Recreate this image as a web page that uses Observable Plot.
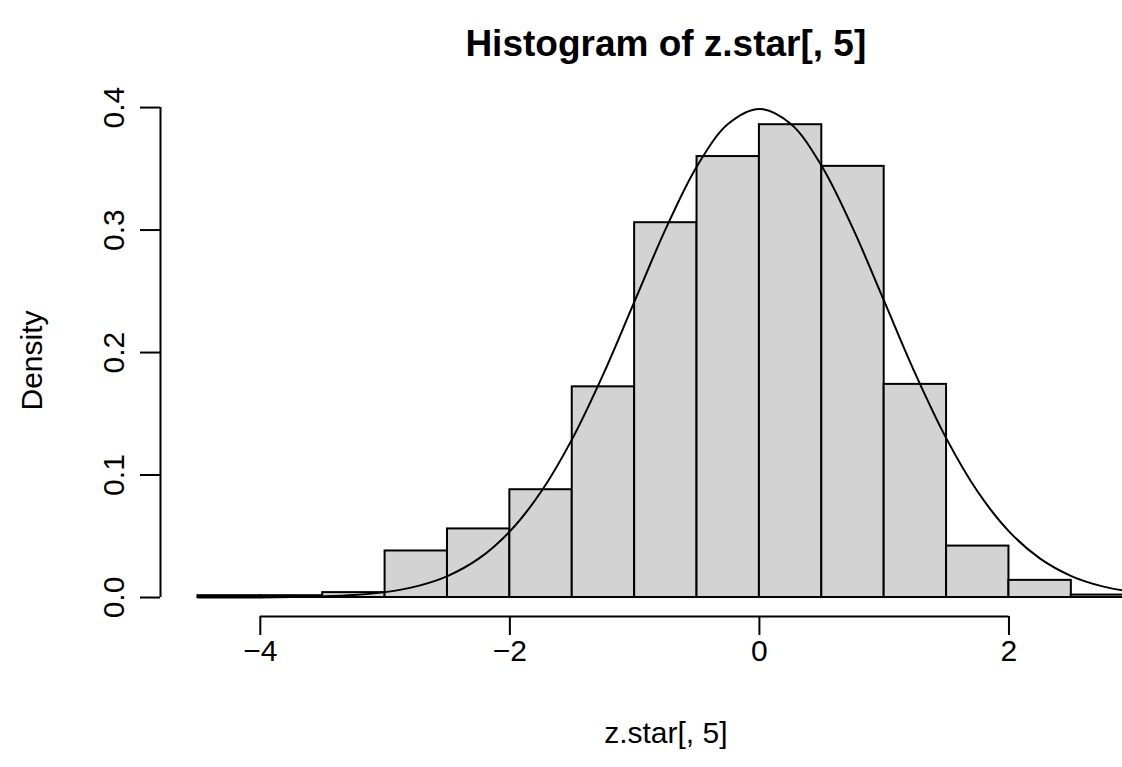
<!DOCTYPE html>
<html><head><meta charset="utf-8">
<script src="https://cdn.jsdelivr.net/npm/d3@7"></script>
<script src="https://cdn.jsdelivr.net/npm/@observablehq/plot@0.6"></script>
<style>body{margin:0;background:#fff}</style>
</head><body><div id="chart"></div>
<script>
// Histogram bins (edges) and densities
const binEdges = [-4.5,-4,-3.5,-3,-2.5,-2,-1.5,-1,-0.5,0,0.5,1,1.5,2,2.5,3];
const densities = [0.0015,0.0015,0.004,0.038,0.056,0.088,0.172,0.306,0.360,0.386,0.352,0.174,0.042,0.014,0.002];
// Overlaid density curve
const curveX = [-4.5,-4.25,-4,-3.75,-3.5,-3.25,-3,-2.75,-2.5,-2.25,-2,-1.75,-1.5,-1.25,-1,-0.75,-0.5,-0.25,0,0.25,0.5,0.75,1,1.25,1.5,1.75,2,2.25,2.5,2.75,3,3.25,3.5];
const curveY = [0,0.0001,0.0001,0.0004,0.0009,0.002,0.0044,0.0091,0.0175,0.0317,0.054,0.0863,0.1295,0.1826,0.242,0.3011,0.3521,0.3867,0.3989,0.3867,0.3521,0.3011,0.242,0.1826,0.1295,0.0863,0.054,0.0317,0.0175,0.0091,0.0044,0.002,0.0009];
// Axis ticks and texts
const xTicks = [-4,-2,0,2];
const yTicks = [0,0.1,0.2,0.3,0.4];
const xDomain = [-4.8, 2.91];
const xFullRight = 3.3;
const yDomain = [-0.0155, 0.4025];
const titleText = "Histogram of z.star[, 5]";
const xLabel = "z.star[, 5]";
const yLabel = "Density";

const bars = densities.map((d, i) => ({x1: binEdges[i], x2: binEdges[i + 1], y: d}));
const curve = curveX.map((x, i) => ({x, y: curveY[i]}));
const font = "'Liberation Sans', Arial, Helvetica, sans-serif";

const chart = Plot.plot({
  width: 1122,
  height: 767,
  marginLeft: 160,
  marginRight: 0,
  marginTop: 104,
  marginBottom: 151,
  style: {fontFamily: font, fontSize: "30px", background: "#fff", color: "#000"},
  x: {domain: xDomain},
  y: {domain: yDomain},
  marks: [
    Plot.rectY(bars, {x1: "x1", x2: "x2", y1: 0, y2: "y", fill: "#d3d3d3", stroke: "#000", strokeWidth: 2, inset: 0, clip: true}),
    Plot.line(curve, {x: "x", y: "y", curve: "catmull-rom", stroke: "#000", strokeWidth: 2, clip: true}),
    Plot.ruleY([yDomain[0]], {x1: xTicks[0], x2: xTicks[xTicks.length - 1], stroke: "#000", strokeWidth: 2}),
    Plot.axisX(xTicks, {tickSize: 19, tickPadding: 4, strokeWidth: 2, tickFormat: d => d3.format("d")(d).replace("-", "\u2212"), label: null, fontSize: 30}),
    Plot.ruleX([xDomain[0]], {y1: yTicks[0], y2: yTicks[yTicks.length - 1], stroke: "#000", strokeWidth: 2}),
    Plot.axisY(yTicks, {tickSize: 20, strokeWidth: 2, tickFormat: () => "", label: null}),
    Plot.text(yTicks, {x: xDomain[0], y: d => d, text: d => d3.format(".1f")(d), rotate: -90, dx: -46, fontSize: 30}),
    Plot.text([yLabel], {frameAnchor: "left", textAnchor: "middle", rotate: -90, dx: -128, fontSize: 30}),
    Plot.text([xLabel], {frameAnchor: "bottom", x: (xDomain[0] + xFullRight) / 2, dy: 126, fontSize: 30}),
    Plot.text([titleText], {frameAnchor: "top", x: (xDomain[0] + xFullRight) / 2, dy: -75, fontSize: 37, fontWeight: "bold"})
  ]
});
document.getElementById("chart").appendChild(chart);
</script>
</body></html>
